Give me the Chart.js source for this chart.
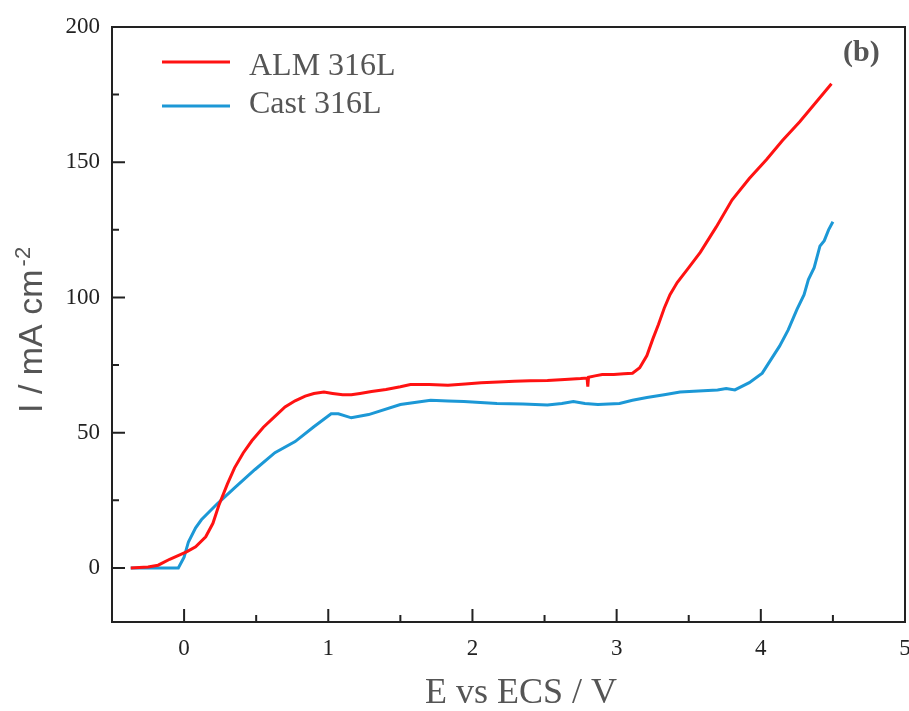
<!DOCTYPE html>
<html>
<head>
<meta charset="utf-8">
<script src="https://cdn.jsdelivr.net/npm/chart.js@4.4.1/dist/chart.umd.min.js"></script>
<style>
  html, body { margin: 0; padding: 0; background: #fff; }
  canvas { display: block; }
</style>
</head>
<body>
<canvas id="polChart" width="909" height="711"></canvas>
<script>
// ALM 316L (red) - potential (V) and current (mA cm-2)
var almE = [-0.37, -0.25, -0.18, -0.1, -0.03, 0.02, 0.08, 0.15, 0.2, 0.24, 0.3, 0.35, 0.41, 0.47, 0.55, 0.63, 0.7, 0.77, 0.84, 0.9,
            0.97, 1.03, 1.1, 1.16, 1.22, 1.3, 1.4, 1.5, 1.57, 1.7, 1.83, 1.95, 2.06, 2.18, 2.29, 2.4, 2.52, 2.64, 2.75, 2.795,
            2.8, 2.805, 2.85, 2.9, 2.98, 3.05, 3.11, 3.16, 3.21, 3.25, 3.29, 3.33, 3.37, 3.42, 3.5, 3.58, 3.69, 3.8, 3.92, 4.04,
            4.15, 4.27, 4.38, 4.49];
var almI = [0, 0.3, 1, 3.2, 4.8, 6, 7.8, 11.5, 16.5, 23, 31, 37, 42.5, 47, 52, 56, 59.5, 61.8, 63.5, 64.5,
            65, 64.5, 64, 64, 64.5, 65.2, 66, 67, 67.8, 67.8, 67.5, 68, 68.5, 68.7, 69, 69.2, 69.3, 69.7, 70, 70.2,
            67, 70.5, 71, 71.5, 71.5, 71.8, 72, 74, 78.5, 84.5, 90, 96, 101, 105.5, 111, 116.7, 126, 136, 144, 151,
            158, 165, 172, 179];

// Cast 316L (blue)
var castE = [-0.37, -0.2, -0.04, 0, 0.03, 0.08, 0.12, 0.23, 0.35, 0.49, 0.63, 0.77, 0.9, 1.02, 1.07, 1.16, 1.28, 1.5, 1.71, 1.83,
             1.94, 2.17, 2.35, 2.52, 2.62, 2.7, 2.78, 2.87, 3.02, 3.11, 3.21, 3.33, 3.44, 3.6, 3.7, 3.76, 3.82, 3.92, 4.01, 4.07,
             4.13, 4.19, 4.25, 4.3, 4.33, 4.37, 4.41, 4.44, 4.47, 4.5];
var castI = [0, 0, 0, 4, 9.6, 14.8, 17.8, 23.7, 29.6, 36.3, 42.6, 46.7, 52.2, 57, 57, 55.5, 56.7, 60.4, 62, 61.7,
             61.5, 60.8, 60.6, 60.2, 60.8, 61.5, 60.8, 60.4, 60.8, 62, 63, 64, 65, 65.5, 65.8, 66.3, 65.8, 68.5, 72, 77,
             82, 88, 95.5, 101, 106.6, 111, 119, 121, 125, 128];

var seriesNames = ['ALM 316L', 'Cast 316L'];
var seriesColors = ['rgb(255, 18, 18)', 'rgb(28, 152, 214)'];

var xMajor = [0, 1, 2, 3, 4, 5];
var xMinor = [0.5, 1.5, 2.5, 3.5, 4.5];
var yMajor = [0, 50, 100, 150, 200];
var yMinor = [25, 75, 125, 175];

function toPoints(xs, ys) {
    return xs.map(function (x, i) { return { x: x, y: ys[i] }; });
}

var frame = {
    id: 'frame',
    afterDraw: function (chart) {
        var ctx = chart.ctx;
        var a = chart.chartArea;
        var xs = chart.scales.x;
        var ys = chart.scales.y;
        ctx.save();

        // box
        ctx.strokeStyle = '#222';
        ctx.lineWidth = 2;
        ctx.strokeRect(a.left, a.top, a.right - a.left, a.bottom - a.top);

        // inward ticks
        ctx.beginPath();
        xMajor.forEach(function (v) {
            var p = xs.getPixelForValue(v);
            ctx.moveTo(p, a.bottom); ctx.lineTo(p, a.bottom - 13);
        });
        xMinor.forEach(function (v) {
            var p = xs.getPixelForValue(v);
            ctx.moveTo(p, a.bottom); ctx.lineTo(p, a.bottom - 7);
        });
        yMajor.forEach(function (v) {
            var p = ys.getPixelForValue(v);
            ctx.moveTo(a.left, p); ctx.lineTo(a.left + 13, p);
        });
        yMinor.forEach(function (v) {
            var p = ys.getPixelForValue(v);
            ctx.moveTo(a.left, p); ctx.lineTo(a.left + 7, p);
        });
        ctx.stroke();

        // legend
        ctx.lineWidth = 3;
        ctx.font = '32px "Liberation Serif", serif';
        ctx.textBaseline = 'alphabetic';
        ctx.textAlign = 'left';
        var legY = [62, 106];
        var txtY = [75, 113];
        seriesNames.forEach(function (name, i) {
            ctx.strokeStyle = seriesColors[i];
            ctx.beginPath();
            ctx.moveTo(162, legY[i]); ctx.lineTo(230, legY[i]);
            ctx.stroke();
            ctx.fillStyle = '#555';
            ctx.fillText(name, 249, txtY[i]);
        });

        // panel label
        ctx.fillStyle = '#555';
        ctx.font = 'bold 30px "Liberation Serif", serif';
        ctx.fillText('(b)', 843, 61);

        // x title
        ctx.font = '36px "Liberation Serif", serif';
        ctx.textAlign = 'center';
        ctx.fillText('E vs ECS / V', 521, 703);

        // y title
        ctx.translate(42, 413);
        ctx.rotate(-Math.PI / 2);
        ctx.textAlign = 'left';
        ctx.font = '34px "Liberation Sans", sans-serif';
        var main = 'I / mA cm';
        ctx.fillText(main, 0, 0);
        var w = ctx.measureText(main).width;
        ctx.font = '22px "Liberation Sans", sans-serif';
        ctx.fillText('-2', w + 3, -12);

        ctx.restore();
    }
};

var ctxPol = document.getElementById('polChart').getContext('2d');
var polChart = new Chart(ctxPol, {
    type: 'line',
    data: {
        datasets: [{
            label: seriesNames[0],
            data: toPoints(almE, almI),
            borderColor: seriesColors[0],
            borderWidth: 3,
            pointRadius: 0,
            tension: 0
        }, {
            label: seriesNames[1],
            data: toPoints(castE, castI),
            borderColor: seriesColors[1],
            borderWidth: 3,
            pointRadius: 0,
            tension: 0
        }]
    },
    options: {
        responsive: false,
        animation: false,
        layout: { padding: { top: 27, right: 4, left: 0, bottom: 0 } },
        plugins: {
            legend: { display: false },
            tooltip: { enabled: false }
        },
        scales: {
            x: {
                type: 'linear',
                min: -0.5,
                max: 5,
                grid: { display: false, drawTicks: false },
                border: { display: false },
                afterFit: function (s) {
                    s.height = 89;
                    s.paddingLeft = 0;
                    s.paddingRight = 0;
                },
                afterBuildTicks: function (s) {
                    s.ticks = xMajor.map(function (v) { return { value: v }; });
                },
                ticks: {
                    autoSkip: false,
                    maxRotation: 0,
                    padding: 13,
                    color: '#222',
                    font: { family: '"Liberation Serif", serif', size: 23 }
                }
            },
            y: {
                min: -20,
                max: 200,
                grid: { display: false, drawTicks: false },
                border: { display: false },
                afterFit: function (s) {
                    s.width = 112;
                    s.paddingTop = 0;
                    s.paddingBottom = 0;
                },
                afterBuildTicks: function (s) {
                    s.ticks = yMajor.map(function (v) { return { value: v }; });
                },
                ticks: {
                    padding: 12,
                    color: '#222',
                    font: { family: '"Liberation Serif", serif', size: 23 }
                }
            }
        }
    },
    plugins: [frame]
});
</script>
</body>
</html>
